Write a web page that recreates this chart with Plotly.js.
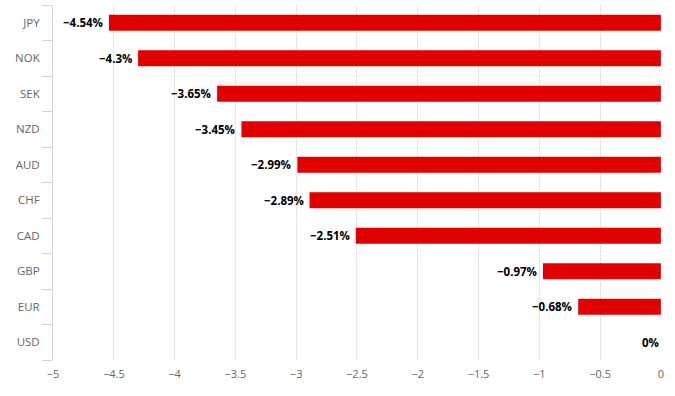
<!DOCTYPE html>
<html><head><meta charset="utf-8">
<script src="https://cdn.plot.ly/plotly-3.0.1.min.js"></script>
<style>html,body{margin:0;padding:0;background:#fff}#chart{width:675px;height:396px}</style>
</head><body><div id="chart"></div>
<script>
const currencies = ["JPY","NOK","SEK","NZD","AUD","CHF","CAD","GBP","EUR","USD"];
const changes = [-4.54,-4.3,-3.65,-3.45,-2.99,-2.89,-2.51,-0.97,-0.68,0];
const xTicks = [-5,-4.5,-4,-3.5,-3,-2.5,-2,-1.5,-1,-0.5,0];

const labels = changes.map(v => (String(v) + "%").replace("-", "\u2212"));
const tickText = xTicks.map(v => String(v).replace("-", "\u2212"));

const trace = {
  type: "bar",
  orientation: "h",
  y: currencies,
  x: changes,
  marker: {color: "#e10000"},
  width: 0.45,
  hoverinfo: "none"
};

const annotations = changes.map((v, i) => ({
  x: v, y: currencies[i], xref: "x", yref: "y",
  text: labels[i], showarrow: false,
  xanchor: "right", yanchor: "middle", xshift: v === 0 ? 0 : -4,
  font: {family: "Open Sans, DejaVu Sans, sans-serif", size: 11.5, color: "#000", weight: "bold"}
}));

const layout = {
  width: 675, height: 396,
  margin: {l: 53, r: 14, t: 5, b: 36},
  paper_bgcolor: "#fff", plot_bgcolor: "#fff",
  showlegend: false,
  font: {family: "Open Sans, DejaVu Sans, sans-serif", size: 11, color: "#666"},
  annotations: annotations,
  xaxis: {
    range: [-5, 0.001],
    tickvals: xTicks,
    ticktext: tickText,
    showgrid: true, gridcolor: "#e6e6e6", gridwidth: 1,
    zeroline: false, showline: false, ticks: "",
    tickfont: {size: 11, color: "#666"},
    ticklabelstandoff: 6,
    fixedrange: true
  },
  yaxis: {
    categoryorder: "array",
    categoryarray: currencies.slice().reverse(),
    showline: true, linecolor: "#ccd6eb", linewidth: 1,
    ticks: "outside", tickson: "boundaries", ticklen: 10, tickcolor: "#ccd6eb",
    showgrid: false, zeroline: false,
    tickfont: {size: 11.5, color: "#666"},
    ticklabelstandoff: 10,
    fixedrange: true
  }
};

Plotly.newPlot("chart", [trace], layout, {displayModeBar: false, staticPlot: true});
</script></body></html>
